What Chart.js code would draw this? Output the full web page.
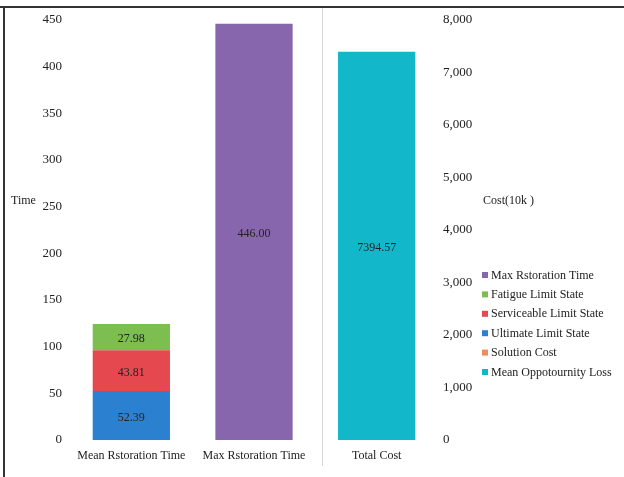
<!DOCTYPE html>
<html>
<head>
<meta charset="utf-8">
<script src="https://cdn.jsdelivr.net/npm/chart.js@4/dist/chart.umd.min.js"></script>
<style>
  html, body { margin: 0; padding: 0; background: #fff; }
  #wrap { width: 624px; height: 477px; position: relative; }
</style>
</head>
<body>
<div id="wrap"><canvas id="c"></canvas></div>
<script>
// categories and values
const categories = ['Mean Rstoration Time', 'Max Rstoration Time', 'Total Cost'];
const ultimateLimit = [52.39, null, null];
const serviceableLimit = [43.81, null, null];
const fatigueLimit = [27.98, null, null];
const maxRestoration = [null, 446.00, null];
const solutionCost = [null, null, 0];
const meanOpportunityLoss = [null, null, 7394.57];
const timeTicks = [0, 50, 100, 150, 200, 250, 300, 350, 400, 450];
const costTicks = [0, 1000, 2000, 3000, 4000, 5000, 6000, 7000, 8000];

const SERIF = '"Liberation Serif", "Times New Roman", serif';

// dataset order chosen so that reversed order gives the legend order
const datasets = [
  { label: 'Mean Oppotournity Loss', data: meanOpportunityLoss, backgroundColor: '#12b8ca', yAxisID: 'y1' },
  { label: 'Solution Cost', data: solutionCost, backgroundColor: '#f28a5c', yAxisID: 'y1' },
  { label: 'Ultimate Limit State', data: ultimateLimit, backgroundColor: '#2b80d0', yAxisID: 'y' },
  { label: 'Serviceable Limit State', data: serviceableLimit, backgroundColor: '#e6484f', yAxisID: 'y' },
  { label: 'Fatigue Limit State', data: fatigueLimit, backgroundColor: '#7dbe50', yAxisID: 'y' },
  { label: 'Max Rstoration Time', data: maxRestoration, backgroundColor: '#8866ad', yAxisID: 'y' }
];

// value labels, legend, axis titles and frame
const extras = {
  id: 'extras',
  afterDatasetsDraw(chart) {
    const ctx = chart.ctx;
    ctx.save();
    ctx.font = '12px ' + SERIF;
    ctx.fillStyle = '#222';
    ctx.textAlign = 'center';
    ctx.textBaseline = 'middle';
    chart.data.datasets.forEach((ds, i) => {
      chart.getDatasetMeta(i).data.forEach((bar, j) => {
        const v = ds.data[j];
        if (!v) return;
        const mid = (bar.y + bar.base) / 2 + 2;
        ctx.fillText(v.toFixed(2), bar.x, mid);
      });
    });
    ctx.restore();
  },
  afterDraw(chart) {
    const ctx = chart.ctx;
    ctx.save();
    // faint separator line
    const xs = chart.scales.x;
    const sepX = Math.round((xs.getPixelForValue(1) + xs.getPixelForValue(2)) / 2) + 7.5;
    ctx.strokeStyle = '#d6d6d6';
    ctx.lineWidth = 1;
    ctx.beginPath();
    ctx.moveTo(sepX, 8);
    ctx.lineTo(sepX, 466);
    ctx.stroke();

    // axis titles
    ctx.font = '12px ' + SERIF;
    ctx.fillStyle = '#222';
    ctx.textBaseline = 'middle';
    ctx.textAlign = 'left';
    ctx.fillText('Time', 11, 201);
    ctx.fillText('Cost(10k )', 483, 201);

    // legend
    const items = chart.data.datasets.slice().reverse();
    items.forEach((ds, k) => {
      const y = 275 + k * 19.4;
      ctx.fillStyle = ds.backgroundColor;
      ctx.fillRect(482, y - 3, 6, 6);
      ctx.fillStyle = '#222';
      ctx.fillText(ds.label, 491, y + 0.5);
    });

    // frame
    ctx.fillStyle = '#333';
    ctx.fillRect(0, 6, 624, 2);
    ctx.fillRect(3, 6, 2, 471);
    ctx.restore();
  }
};

new Chart(document.getElementById('c'), {
  type: 'bar',
  data: { labels: categories, datasets: datasets },
  options: {
    responsive: true,
    maintainAspectRatio: false,
    animation: false,
    layout: { padding: { left: 4, right: 0, top: 20, bottom: 0 } },
    datasets: { bar: { barPercentage: 0.63, categoryPercentage: 1, skipNull: true } },
    plugins: {
      legend: { display: false },
      tooltip: { enabled: false }
    },
    scales: {
      x: {
        stacked: true,
        grid: { display: false, tickLength: 0 },
        border: { display: false },
        ticks: { font: { family: SERIF, size: 12 }, color: '#222', padding: 9, maxRotation: 0 },
        afterFit(s) { s.height = 37; }
      },
      y: {
        stacked: true,
        position: 'left',
        min: 0,
        max: 450,
        grid: { display: false, tickLength: 0 },
        border: { display: false },
        afterBuildTicks(s) { s.ticks = timeTicks.map(v => ({ value: v })); },
        ticks: { font: { family: SERIF, size: 13 }, color: '#222', padding: 8 },
        afterFit(s) { s.width = 66; }
      },
      y1: {
        stacked: true,
        position: 'right',
        min: 0,
        max: 8000,
        grid: { display: false, tickLength: 0 },
        border: { display: false },
        afterBuildTicks(s) { s.ticks = costTicks.map(v => ({ value: v })); },
        ticks: {
          font: { family: SERIF, size: 13 }, color: '#222', padding: 5,
          callback: v => v.toLocaleString('en-US')
        },
        afterFit(s) { s.width = 186; }
      }
    }
  },
  plugins: [extras]
});
</script>
</body>
</html>
